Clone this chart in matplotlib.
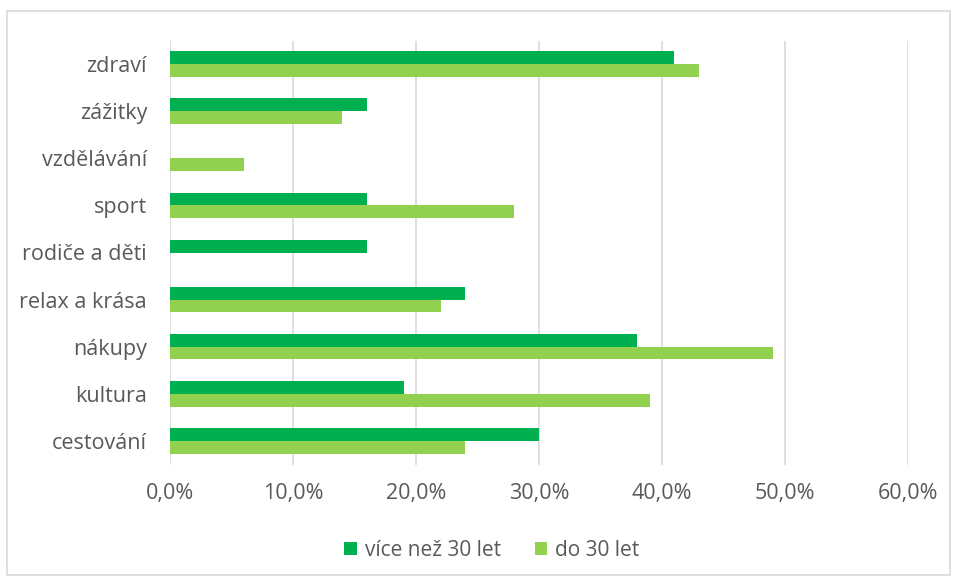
import matplotlib
matplotlib.use("Agg")
import matplotlib.pyplot as plt
from matplotlib.patches import Rectangle
from matplotlib.ticker import FuncFormatter, MultipleLocator

categories = ["cestování", "kultura", "nákupy", "relax a krása", "rodiče a děti",
              "sport", "vzdělávání", "zážitky", "zdraví"]
over_30 = [30, 19, 38, 24, 16, 16, 0, 16, 41]
under_30 = [24, 39, 49, 22, 0, 28, 6, 14, 43]
series_names = ["více než 30 let", "do 30 let"]

dark_green = "#00B050"
light_green = "#92D050"
text_color = "#595959"
grid_color = "#D9D9D9"

plt.rcParams["font.family"] = ["Open Sans", "DejaVu Sans"]

fig = plt.figure(figsize=(9.57, 5.8), dpi=100)
ax = fig.add_axes([170 / 957, 1 - 464.5 / 580, 738 / 957, 424 / 580])

h = 0.27
y = list(range(len(categories)))
ax.barh([v + h / 2 for v in y], over_30, height=h, color=dark_green,
        label=series_names[0], zorder=3)
ax.barh([v - h / 2 for v in y], under_30, height=h, color=light_green,
        label=series_names[1], zorder=3)

ax.set_xlim(0, 60)
ax.set_ylim(-0.5, len(categories) - 0.5)
ax.xaxis.set_major_locator(MultipleLocator(10))
ax.xaxis.set_major_formatter(FuncFormatter(lambda v, p: f"{v:.1f}%".replace(".", ",")))
ax.set_yticks(y)
ax.set_yticklabels(categories)
ax.grid(axis="x", color=grid_color, linewidth=1.2, zorder=0)
ax.tick_params(axis="both", length=0, colors=text_color)
ax.tick_params(axis="y", pad=16.5, labelsize=15.5)
ax.tick_params(axis="x", pad=13, labelsize=15.5)
for s in ax.spines.values():
    s.set_visible(False)

fig.legend(loc="center", bbox_to_anchor=(492 / 957, 1 - 550 / 580), ncol=2,
           frameon=False, fontsize=15, labelcolor=text_color,
           handlelength=0.6, handleheight=0.6, handletextpad=0.4,
           columnspacing=1.6)

fig.patches.append(Rectangle((7 / 957, 5 / 580), 943 / 957, 564 / 580,
                             transform=fig.transFigure, fill=False,
                             edgecolor="#D9D9D9", linewidth=1.2))

fig.savefig("out.png", dpi=100, facecolor="white")
